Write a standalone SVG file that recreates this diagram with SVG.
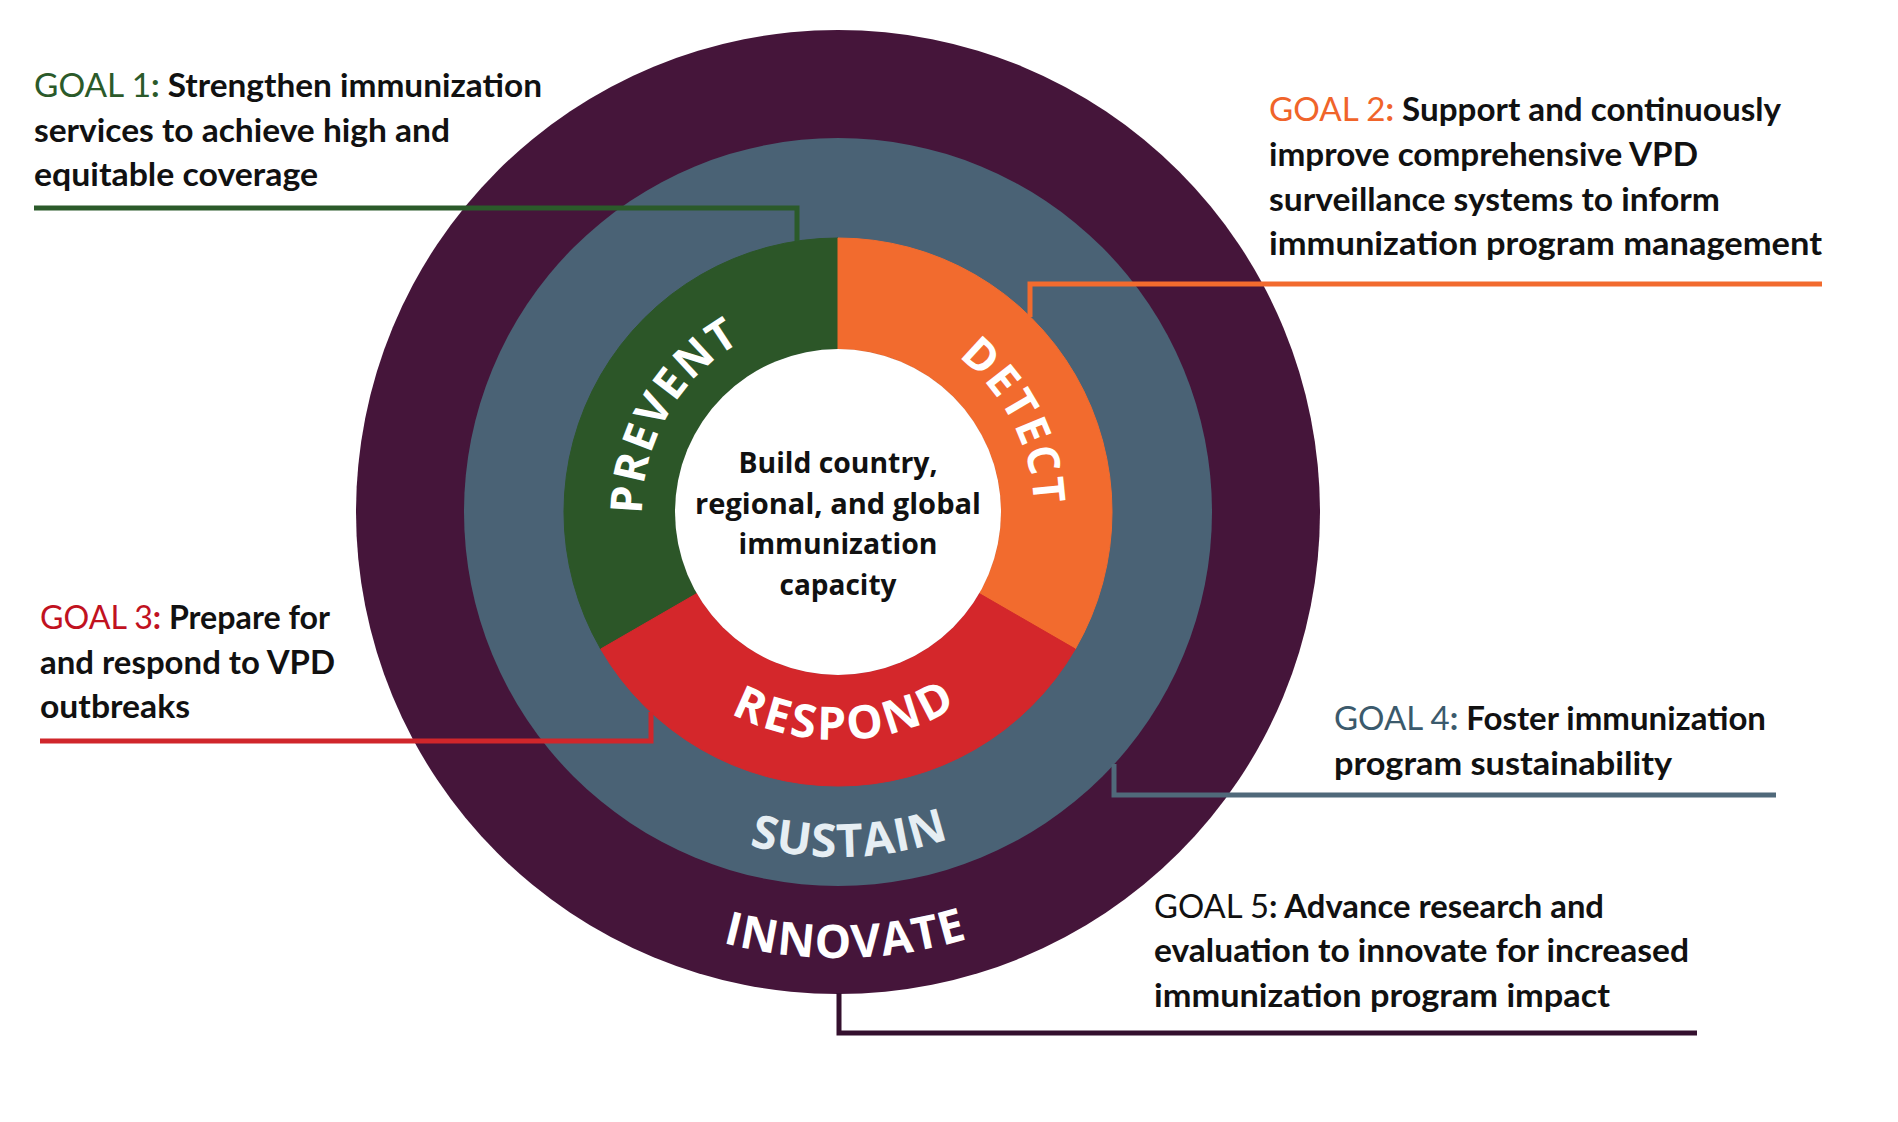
<svg xmlns="http://www.w3.org/2000/svg" width="1898" height="1122" viewBox="0 0 1898 1122">
<style>
.goal{font-family:Lato,"Liberation Sans",sans-serif;font-size:33px;font-weight:700;fill:#111}
.gk{font-weight:400}
.ring{font-family:"Open Sans","Liberation Sans",sans-serif;font-weight:700;font-size:44px;fill:#ffffff}
.big{font-size:46px}
.ctr{font-family:"Open Sans","Liberation Sans",sans-serif;font-weight:700;font-size:29px;fill:#111;text-anchor:middle}
.conn{fill:none;stroke-width:5;stroke-linejoin:miter}
</style>
<defs>
<path id="p-prevent" d="M653.8,579 A196,196 0 0 1 804,319"/>
<path id="p-detect" d="M882.1,321 A196,196 0 0 1 1018.4,588.6"/>
<path id="p-respond" d="M640.5,626 A228,228 0 0 0 1042.9,611.9"/>
<path id="p-sustain" d="M539.2,684.5 A345,345 0 0 0 1148.1,663.2"/>
<path id="p-innovate" d="M455.7,741.7 A446,446 0 0 0 1228,728.2"/>
</defs>
<rect width="1898" height="1122" fill="#ffffff"/>

<g id="innovate">
<circle cx="838" cy="512" r="482" fill="#45153a"/>
<text class="ring big" letter-spacing="1"><textPath href="#p-innovate" startOffset="50%" text-anchor="middle">INNOVATE</textPath></text>
</g>
<g id="sustain">
<circle cx="838" cy="512" r="374" fill="#4a6275"/>
<text class="ring big" letter-spacing="1" style="fill:#e6eef3"><textPath href="#p-sustain" startOffset="50%" text-anchor="middle">SUSTAIN</textPath></text>
</g>
<g id="prevent">
<path d="M838,238 A274,274 0 0 0 600.7,649 L696.8,593.5 A163,163 0 0 1 838,349 Z" fill="#2c5628" stroke="#2c5628" stroke-width="1"/>
<text class="ring" letter-spacing="2"><textPath href="#p-prevent" startOffset="50%" text-anchor="middle">PREVENT</textPath></text>
</g>
<g id="detect">
<path d="M838,238 A274,274 0 0 1 1075.3,649 L979.2,593.5 A163,163 0 0 0 838,349 Z" fill="#f26b2e" stroke="#f26b2e" stroke-width="1"/>
<text class="ring" letter-spacing="2"><textPath href="#p-detect" startOffset="50%" text-anchor="middle">DETECT</textPath></text>
</g>
<g id="respond">
<path d="M1075.3,649 A274,274 0 0 1 600.7,649 L696.8,593.5 A163,163 0 0 0 979.2,593.5 Z" fill="#d4272b" stroke="#d4272b" stroke-width="1"/>
<text class="ring big" letter-spacing="3"><textPath href="#p-respond" startOffset="50%" text-anchor="middle">RESPOND</textPath></text>
</g>
<g id="center">
<circle cx="838" cy="512" r="163" fill="#ffffff"/>
<text class="ctr" x="838" y="473" textLength="199" lengthAdjust="spacingAndGlyphs">Build country,</text>
<text class="ctr" x="838" y="514" textLength="286" lengthAdjust="spacingAndGlyphs">regional, and global</text>
<text class="ctr" x="838" y="554" textLength="199" lengthAdjust="spacingAndGlyphs">immunization</text>
<text class="ctr" x="838" y="595" textLength="117" lengthAdjust="spacingAndGlyphs">capacity</text>
</g>

<g id="connectors">
<polyline class="conn" stroke="#2b5a2a" points="34,208 797,208 797,241"/>
<polyline class="conn" stroke="#f26b2e" points="1822,284 1030,284 1030,317"/>
<polyline class="conn" stroke="#d0262b" points="40,741 651,741 651,712"/>
<polyline class="conn" stroke="#50697a" points="1776,795 1114,795 1114,764"/>
<polyline class="conn" stroke="#34102e" points="1697,1033 839,1033 839,993"/>
</g>

<g id="goal1">
<text class="goal" x="34" y="97" textLength="508" lengthAdjust="spacingAndGlyphs"><tspan class="gk" fill="#2b5a2a">GOAL 1</tspan><tspan fill="#2b5a2a">:</tspan> Strengthen immunization</text>
<text class="goal" x="34" y="142" textLength="416" lengthAdjust="spacingAndGlyphs">services to achieve high and</text>
<text class="goal" x="34" y="186" textLength="284" lengthAdjust="spacingAndGlyphs">equitable coverage</text>
</g>
<g id="goal2">
<text class="goal" x="1269" y="121" textLength="512" lengthAdjust="spacingAndGlyphs"><tspan class="gk" fill="#f0642a">GOAL 2</tspan><tspan fill="#f0642a">:</tspan> Support and continuously</text>
<text class="goal" x="1269" y="166" textLength="429" lengthAdjust="spacingAndGlyphs">improve comprehensive VPD</text>
<text class="goal" x="1269" y="211" textLength="451" lengthAdjust="spacingAndGlyphs">surveillance systems to inform</text>
<text class="goal" x="1269" y="255" textLength="553" lengthAdjust="spacingAndGlyphs">immunization program management</text>
</g>
<g id="goal3">
<text class="goal" x="40" y="629" textLength="290" lengthAdjust="spacingAndGlyphs"><tspan class="gk" fill="#c1121f">GOAL 3</tspan><tspan fill="#c1121f">:</tspan> Prepare for</text>
<text class="goal" x="40" y="674" textLength="295" lengthAdjust="spacingAndGlyphs">and respond to VPD</text>
<text class="goal" x="40" y="718" textLength="150" lengthAdjust="spacingAndGlyphs">outbreaks</text>
</g>
<g id="goal4">
<text class="goal" x="1334" y="730" textLength="432" lengthAdjust="spacingAndGlyphs"><tspan class="gk" fill="#3b5a6c">GOAL 4</tspan><tspan fill="#3b5a6c">:</tspan> Foster immunization</text>
<text class="goal" x="1334" y="775" textLength="338" lengthAdjust="spacingAndGlyphs">program sustainability</text>
</g>
<g id="goal5">
<text class="goal" x="1154" y="918" textLength="450" lengthAdjust="spacingAndGlyphs"><tspan class="gk">GOAL 5</tspan>: Advance research and</text>
<text class="goal" x="1154" y="962" textLength="535" lengthAdjust="spacingAndGlyphs">evaluation to innovate for increased</text>
<text class="goal" x="1154" y="1007" textLength="456" lengthAdjust="spacingAndGlyphs">immunization program impact</text>
</g>
</svg>
